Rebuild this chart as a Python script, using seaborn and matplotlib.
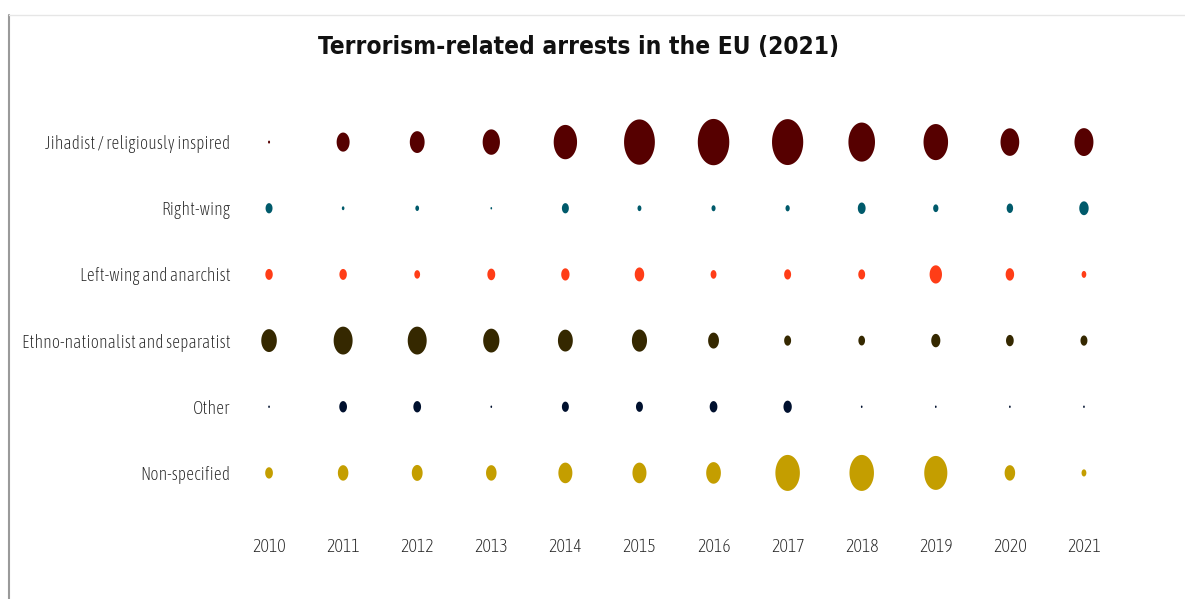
"""Bubble chart: terrorism-related arrests in the EU by affiliation, 2010-2021."""
import os

import matplotlib.pyplot as plt
import numpy as np
import pandas as pd
import seaborn as sns
from matplotlib import font_manager
from matplotlib.font_manager import FontProperties
from matplotlib.lines import Line2D
from matplotlib.path import Path

YEARS = list(range(2010, 2022))
CATEGORIES = [
    "Jihadist / religiously inspired",
    "Right-wing",
    "Left-wing and anarchist",
    "Ethno-nationalist and separatist",
    "Other",
    "Non-specified",
]

# arrests per year
jihadist       = [3, 122, 159, 216, 395, 687, 718, 705, 511, 436, 254, 260]
right_wing     = [35, 5, 10, 2, 35, 11, 12, 13, 44, 20, 30, 64]
left_wing      = [40, 40, 24, 45, 50, 65, 25, 35, 34, 111, 52, 16]
ethno_separ    = [175, 260, 260, 190, 160, 165, 85, 35, 32, 60, 43, 35]
other          = [2, 43, 43, 2, 35, 35, 43, 50, 2, 2, 2, 2]
non_specified  = [43, 80, 85, 80, 142, 142, 156, 434, 434, 386, 80, 17]

COLORS = ["#560000", "#005a6b", "#ff3d17", "#352800", "#00102e", "#c49e00"]

df = pd.DataFrame(
    {
        "year": np.tile(YEARS, len(CATEGORIES)),
        "category": np.repeat(CATEGORIES, len(YEARS)),
        "arrests": jihadist + right_wing + left_wing + ethno_separ + other + non_specified,
    }
)


def _find_narrow(bold: bool, prefer_light: bool = False):
    """Look for a condensed / narrow face installed; None if there is none."""
    hits = []
    for f in font_manager.fontManager.ttflist:
        name = os.path.basename(f.fname)
        if not any(s in name for s in ("Condensed", "Narrow")):
            continue
        if "Oblique" in name or "Italic" in name:
            continue
        if ("Bold" in name) == bold:
            hits.append(f.fname)
    if not hits:
        return None
    if prefer_light:
        light = [h for h in hits if "Light" in os.path.basename(h)]
        if light:
            return FontProperties(fname=light[0])
    plain = [h for h in hits if not any(w in os.path.basename(h)
                                        for w in ("Light", "Thin", "Medium", "Semi", "Extra", "Black"))]
    return FontProperties(fname=(plain or hits)[0])


narrow_reg = _find_narrow(False, prefer_light=True)
narrow_bold = _find_narrow(True)
if narrow_reg is not None:
    tick_fp, ysize, xsize = narrow_reg, 12.7, 13
else:
    tick_fp, ysize, xsize = FontProperties(family="Open Sans"), 10.5, 9.5
if narrow_bold is not None:
    title_fp, title_size = narrow_bold, 17.6
else:
    title_fp, title_size = FontProperties(family="Open Sans", weight="bold"), 18.5

# the bubbles in the source are slightly squashed horizontally
t = np.linspace(0, 2 * np.pi, 60)
ellipse = Path(np.column_stack([0.68 * np.cos(t), np.sin(t)]), closed=True)

sns.set_style("white")
plt.rcParams["font.family"] = ["Open Sans", "DejaVu Sans"]

fig = plt.figure(figsize=(11.85, 5.99), dpi=100)
ax = fig.add_axes([232 / 1185, 93 / 599, 889 / 1185, 397 / 599])

vmax = max(df["arrests"])
k = 1.55
sns.scatterplot(
    data=df, x="year", y="category", hue="category", size="arrests",
    palette=COLORS, sizes=(0, k * vmax), size_norm=(0, vmax),
    marker=ellipse, linewidth=0, legend=False, ax=ax,
)

ax.set_xlim(2009.5, 2021.5)
ax.set_ylim(5.5, -0.5)
ax.set_xticks(YEARS)
ax.set_xticklabels([str(y) for y in YEARS])
ax.set_xlabel("")
ax.set_ylabel("")
ax.tick_params(axis="both", length=0, labelcolor="#262626")
ax.tick_params(axis="x", pad=23)
ax.tick_params(axis="y", pad=1)
for lbl in ax.get_yticklabels():
    lbl.set_fontproperties(tick_fp)
    lbl.set_fontsize(ysize)
for lbl in ax.get_xticklabels():
    lbl.set_fontproperties(tick_fp)
    lbl.set_fontsize(xsize)
sns.despine(ax=ax, left=True, bottom=True)

fig.text(578 / 1185, 1 - 47 / 599, "Terrorism-related arrests in the EU (2021)",
         ha="center", va="center", fontproperties=title_fp, fontsize=title_size,
         color="#111111")

# card frame from the screenshot
fig.add_artist(Line2D([9 / 1185, 9 / 1185], [0, 1 - 15 / 599], color="#9a9a9a", lw=1.5))
fig.add_artist(Line2D([9 / 1185, 1], [1 - 15 / 599, 1 - 15 / 599], color="#e6e6e6", lw=1))

fig.savefig("out.png", dpi=100)
